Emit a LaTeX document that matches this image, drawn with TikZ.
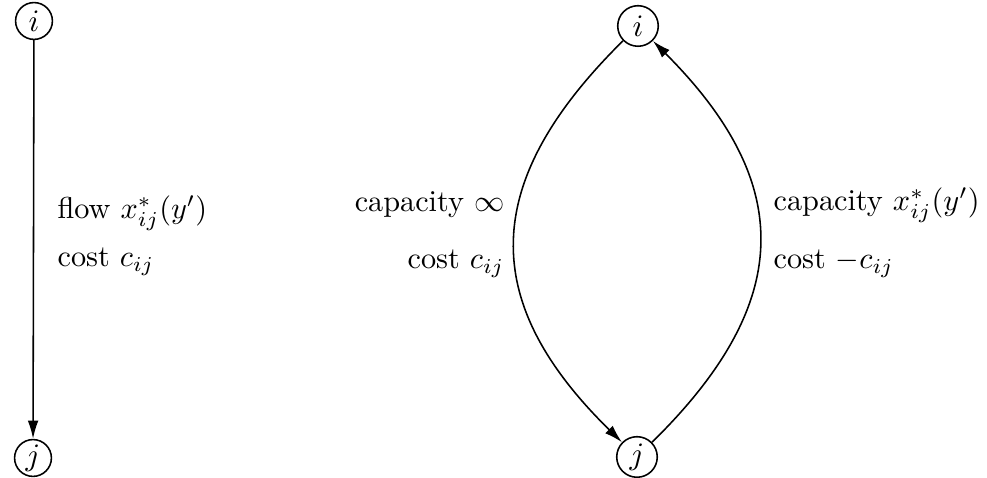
\documentclass[tikz,border=0pt]{standalone}
\usetikzlibrary{arrows.meta}
\begin{document}
\begin{tikzpicture}[x=0.3205pt,y=-0.3205pt,
  vtx/.style={draw,circle,line width=0.5pt,minimum size=11.8pt,inner sep=0pt},
  arc/.style={line width=0.5pt,-{Latex[length=5.8pt,width=3.4pt]}},
  lbl/.style={inner sep=0pt,scale=0.97}]
\useasboundingbox (0,0) rectangle (987,478);
\node[vtx] (li) at (34,21) {$i$};
\node[vtx] (lj) at (33,458) {$j$};
\draw[arc] (li) -- (lj);
\node[lbl,anchor=west] (lf) at (57,213) {flow $x^*_{ij}(y')$};
\node[lbl,anchor=west] (lc) at (57,262) {cost $c_{ij}$};
\node[vtx,minimum size=13pt] (ri) at (638,26) {$i$};
\node[vtx,minimum size=13pt] (rj) at (637,457) {$j$};
\draw[arc] (ri) .. controls (479,183) and (479,302) .. (rj);
\draw[arc] (rj) .. controls (795,302) and (795,183) .. (ri);
\node[lbl,anchor=east] (cl) at (505,205) {capacity $\infty$};
\node[lbl,anchor=east] (cc) at (505,264) {cost $c_{ij}$};
\node[lbl,anchor=west] (cr) at (773,205) {capacity $x^*_{ij}(y')$};
\node[lbl,anchor=west] (cd) at (773,264) {cost $-c_{ij}$};
\end{tikzpicture}
\end{document}
